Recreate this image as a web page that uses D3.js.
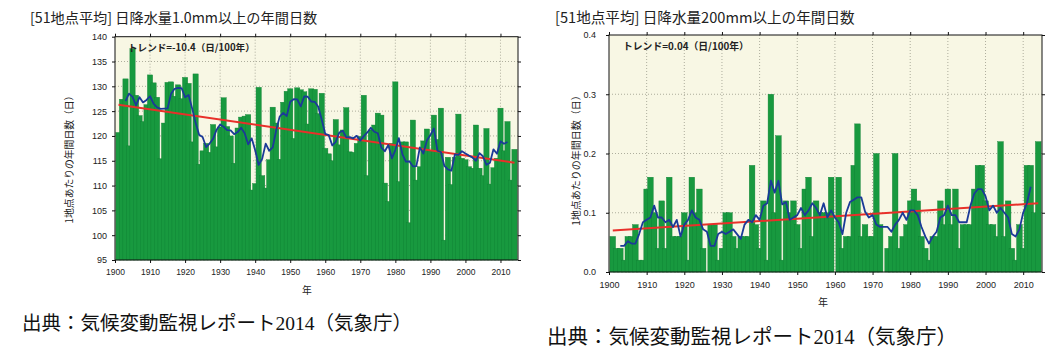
<!DOCTYPE html>
<html>
<head>
<meta charset="utf-8">
<script src="https://cdn.jsdelivr.net/npm/d3@7"></script>
<style>
  body { margin: 0; background: #fff; }
  text { font-family: "Liberation Sans", Arial, sans-serif; }
  .jp { font-family: "Noto Sans CJK JP", "Noto Sans", sans-serif; }
  .serif { font-family: "Liberation Serif", "Noto Sans CJK JP", serif; }
</style>
</head>
<body>
<svg id="chart" width="1063" height="351"></svg>
<script>
// ---- data ----
const years = d3.range(1901, 2015);

// annual days with >= 1.0 mm, 51-station average
const days1mm = [
  120.7, 127.4, 131.5, 118.0, 137.6, 128.2, 124.1, 122.9, 126.3, 132.3,
  130.7, 127.8, 115.4, 122.6, 130.8, 130.9, 128.0, 130.3, 127.5, 131.8,
  130.6, 118.8, 132.5, 114.3, 117.0, 118.5, 116.7, 122.3, 117.8, 121.8,
  127.7, 121.9, 120.0, 114.5, 121.6, 123.8, 124.0, 124.3, 109.1, 110.4,
  129.8, 112.0, 109.5, 115.2, 125.8, 122.6, 115.3, 126.8, 129.0, 129.5,
  119.5, 129.7, 129.3, 128.9, 122.4, 129.5, 129.4, 124.5, 128.6, 117.5,
  116.4, 115.0, 123.3, 118.2, 121.2, 125.7, 116.8, 116.7, 118.5, 119.9,
  128.2, 112.0, 121.2, 122.2, 124.6, 124.2, 110.5, 106.8, 118.5, 130.9,
  110.8, 118.8, 118.8, 102.5, 123.2, 111.1, 113.8, 119.0, 121.4, 117.0,
  124.2, 119.3, 125.6, 99.0, 115.7, 110.2, 115.7, 124.4, 115.5, 115.2,
  113.8, 113.5, 122.2, 113.5, 112.0, 121.5, 110.3, 113.6, 115.5, 125.6,
  117.0, 122.9, 111.1, 117.3
];

// annual days with >= 200 mm, 51-station average
const days200mm = [
  0.06, 0.04, 0.04, 0.02, 0.06, 0.06, 0.08, 0.02, 0.02, 0.14,
  0.16, 0.10, 0.04, 0.12, 0.04, 0.16, 0.06, 0.06, 0.06, 0.10,
  0.02, 0.16, 0.10, 0.14, 0.04, 0.00, 0.08, 0.08, 0.02, 0.04,
  0.10, 0.10, 0.06, 0.04, 0.06, 0.06, 0.06, 0.18, 0.08, 0.04,
  0.12, 0.02, 0.30, 0.10, 0.23, 0.02, 0.12, 0.10, 0.12, 0.08,
  0.04, 0.14, 0.16, 0.06, 0.12, 0.10, 0.10, 0.10, 0.16, 0.00,
  0.16, 0.04, 0.06, 0.06, 0.18, 0.25, 0.06, 0.08, 0.06, 0.06,
  0.20, 0.08, 0.00, 0.04, 0.06, 0.20, 0.04, 0.06, 0.08, 0.12,
  0.14, 0.12, 0.06, 0.04, 0.02, 0.06, 0.06, 0.12, 0.08, 0.14,
  0.08, 0.14, 0.04, 0.08, 0.08, 0.08, 0.14, 0.18, 0.18, 0.12,
  0.08, 0.08, 0.06, 0.22, 0.06, 0.12, 0.04, 0.02, 0.08, 0.04,
  0.18, 0.18, 0.10, 0.22
];

// linear trend, values at first and last year
const trendYears = [1901, 2014];
const trend1mm = [126.3, 114.6];
const trend200mm = [0.070, 0.116];

const xTicks = d3.range(1900, 2011, 10);
const yTicks1mm = d3.range(95, 141, 5);
const yTicks200mm = [0, 0.1, 0.2, 0.3, 0.4];

const GREEN = '#18993f', GREEN_EDGE = '#0f8134', BLUE = '#1b3a98', RED = '#e8302a', BG = '#f8f7e4';

const svg = d3.select('#chart');

// 5-year centred running mean
function runningMean(vals) {
  const out = [];
  for (let i = 2; i < vals.length - 2; i++) {
    out.push({ year: years[i], value: d3.mean(vals.slice(i - 2, i + 3)) });
  }
  return out;
}

function drawPanel(p) {
  const x = d3.scaleLinear().domain([1900, 2015]).range([p.left, p.right]);
  const y = d3.scaleLinear().domain(p.yDomain).range([p.bottom, p.top]);
  const step = x(1901) - x(1900);
  const g = svg.append('g');

  // title
  g.append('text').attr('class', 'jp').attr('x', p.titleX).attr('y', p.titleY)
    .attr('font-size', p.titleSize).attr('fill', '#222').text(p.title);

  // plot background
  g.append('rect').attr('x', p.left).attr('y', p.top)
    .attr('width', p.right - p.left).attr('height', p.bottom - p.top).attr('fill', BG);

  // grid
  g.append('g').selectAll('line').data(p.yTicks.slice(1, -1)).join('line')
    .attr('x1', p.left).attr('x2', p.right).attr('y1', d => y(d)).attr('y2', d => y(d))
    .attr('stroke', '#9a9a8a').attr('stroke-width', 0.8).attr('stroke-dasharray', '1,2');
  g.append('g').selectAll('line').data(xTicks.slice(1)).join('line')
    .attr('x1', d => x(d)).attr('x2', d => x(d)).attr('y1', p.top).attr('y2', p.bottom)
    .attr('stroke', '#9a9a8a').attr('stroke-width', 0.8).attr('stroke-dasharray', '1,2');

  // bars (slightly wider than a year, as in the original)
  const bw = step * 1.5;
  g.append('g').selectAll('rect').data(years.map((yr, i) => ({ yr, v: p.values[i] }))).join('rect')
    .attr('x', d => x(d.yr) - bw / 2).attr('width', bw)
    .attr('y', d => y(Math.max(d.v, p.yDomain[0])))
    .attr('height', d => p.bottom - y(Math.max(d.v, p.yDomain[0])))
    .attr('fill', GREEN).attr('stroke', GREEN_EDGE).attr('stroke-width', 0.4);

  // trend line
  g.append('path')
    .attr('d', d3.line().x(d => x(d[0])).y(d => y(d[1]))(trendYears.map((yr, i) => [yr, p.trend[i]])))
    .attr('fill', 'none').attr('stroke', RED).attr('stroke-width', 2);

  // 5-year mean
  g.append('path')
    .attr('d', d3.line().x(d => x(d.year)).y(d => y(d.value))(runningMean(p.values)))
    .attr('fill', 'none').attr('stroke', BLUE).attr('stroke-width', 1.8).attr('stroke-linejoin', 'round');

  // frame and axes, ticks outward on all sides
  g.append('rect').attr('x', p.left).attr('y', p.top)
    .attr('width', p.right - p.left).attr('height', p.bottom - p.top)
    .attr('fill', 'none').attr('stroke', '#111').attr('stroke-width', 1);

  const ax = (axis, tx, ty) => g.append('g').attr('transform', `translate(${tx},${ty})`).call(axis)
    .call(s => s.select('.domain').remove())
    .call(s => s.selectAll('line').attr('stroke', '#111'));

  ax(d3.axisBottom(x).tickValues(xTicks).tickSize(3).tickPadding(p.xPad).tickFormat(d3.format('d')), 0, p.bottom)
    .selectAll('text').attr('font-size', p.tickSize).attr('fill', '#222').attr('font-family', '"Liberation Sans", Arial, sans-serif');
  ax(d3.axisTop(x).tickValues(xTicks).tickSize(3).tickFormat(''), 0, p.top);
  ax(d3.axisLeft(y).tickValues(p.yTicks).tickSize(3).tickPadding(p.yPad).tickFormat(p.yFormat), p.left, 0)
    .selectAll('text').attr('font-size', p.yTickSize).attr('fill', '#222').attr('font-family', '"Liberation Sans", Arial, sans-serif');
  ax(d3.axisRight(y).tickValues(p.yTicks).tickSize(3).tickFormat(''), p.right, 0);

  // trend annotation
  g.append('text').attr('class', 'jp').attr('x', p.noteX).attr('y', p.noteY)
    .attr('font-size', p.noteSize).attr('font-weight', 700).attr('fill', '#222').text(p.note);

  // axis titles
  g.append('text').attr('class', 'jp')
    .attr('transform', `translate(${p.yLabelX},${p.yLabelY}) rotate(-90)`)
    .attr('text-anchor', 'middle').attr('font-size', p.labelSize).attr('fill', '#222')
    .text('1地点あたりの年間日数（日）');
  g.append('text').attr('class', 'jp').attr('x', p.xLabelX).attr('y', p.xLabelY)
    .attr('text-anchor', 'middle').attr('font-size', p.labelSize).attr('fill', '#222').text('年');

  // source
  g.append('text').attr('class', 'serif').attr('x', p.srcX).attr('y', p.srcY)
    .attr('font-size', p.srcSize).attr('fill', '#111').text('出典：気候変動監視レポート2014（気象庁）');
}

drawPanel({
  left: 115, right: 518, top: 36.7, bottom: 260,
  yDomain: [95, 140], yTicks: yTicks1mm, yFormat: d3.format('d'), values: days1mm, trend: trend1mm,
  title: '[51地点平均] 日降水量1.0mm以上の年間日数', titleX: 30, titleY: 23, titleSize: 14.2,
  note: 'トレンド=-10.4（日/100年）', noteX: 128, noteY: 51, noteSize: 9.6,
  tickSize: 8.5, yTickSize: 9, xPad: 6, yPad: 5,
  yLabelX: 73, yLabelY: 157, xLabelX: 307, xLabelY: 294, labelSize: 9.8,
  srcX: 22, srcY: 330, srcSize: 19.5
});

drawPanel({
  left: 609, right: 1042, top: 35, bottom: 272,
  yDomain: [0, 0.4], yTicks: yTicks200mm, yFormat: d3.format('.1f'), values: days200mm, trend: trend200mm,
  title: '[51地点平均] 日降水量200mm以上の年間日数', titleX: 555, titleY: 23, titleSize: 14.6,
  note: 'トレンド=0.04（日/100年）', noteX: 623, noteY: 50, noteSize: 9.8,
  tickSize: 9, yTickSize: 9, xPad: 7, yPad: 10,
  yLabelX: 580, yLabelY: 158, xLabelX: 823, xLabelY: 306, labelSize: 10,
  srcX: 547, srcY: 344, srcSize: 20.5
});
</script>
</body>
</html>
